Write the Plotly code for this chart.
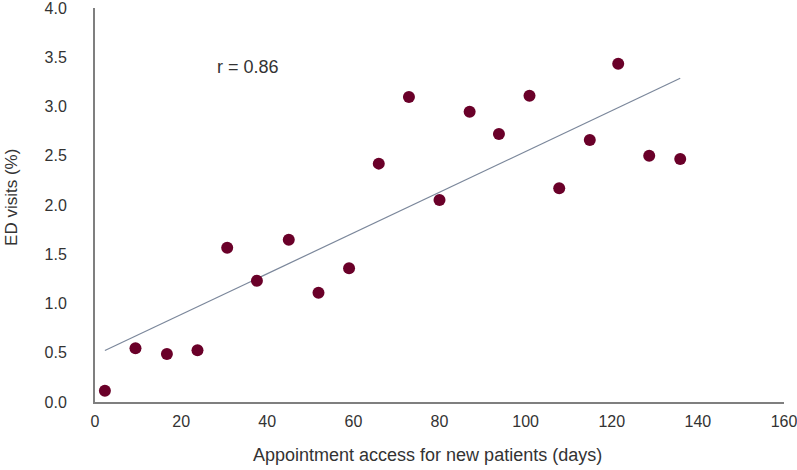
import numpy as np
import plotly.graph_objects as go

access_days = [2.3, 9.4, 16.7, 23.8, 30.7, 37.6, 45.0, 51.9, 59.0, 65.9,
               72.9, 80.0, 87.0, 93.8, 100.9, 107.8, 114.9, 121.5, 128.7, 135.9]
ed_visits = [0.115, 0.545, 0.487, 0.525, 1.567, 1.231, 1.648, 1.11, 1.357, 2.42,
             3.096, 2.05, 2.947, 2.72, 3.11, 2.17, 2.66, 3.435, 2.50, 2.467]
x_ticks = [0, 20, 40, 60, 80, 100, 120, 140, 160]
y_ticks = [0.0, 0.5, 1.0, 1.5, 2.0, 2.5, 3.0, 3.5, 4.0]
r_label = "r = 0.86"
x_title = "Appointment access for new patients (days)"
y_title = "ED visits (%)"

xa = np.array(access_days)
ya = np.array(ed_visits)
slope, intercept = np.polyfit(xa, ya, 1)
line_x = [xa.min(), xa.max()]
line_y = [intercept + slope * v for v in line_x]

fig = go.Figure()
fig.add_trace(go.Scatter(x=line_x, y=line_y, mode="lines",
                         line=dict(color="#7B879B", width=1.2), hoverinfo="skip"))
fig.add_trace(go.Scatter(x=access_days, y=ed_visits, mode="markers",
                         marker=dict(color="#6A0029", size=12)))

txt = "#333333"
fig.add_annotation(x=35.5, y=3.40, text=r_label, showarrow=False,
                   font=dict(size=18, color=txt))
fig.add_annotation(x=0.4826, y=0, xref="paper", yref="paper", yanchor="middle",
                   yshift=-53, text=x_title, showarrow=False,
                   font=dict(size=18, color=txt))
fig.add_annotation(x=0, y=0.518, xref="paper", yref="paper", xanchor="center",
                   xshift=-83, text=y_title, textangle=-90, showarrow=False,
                   font=dict(size=17, color=txt))

font_family = "Liberation Sans, Arial, sans-serif"
fig.update_layout(
    width=797, height=470,
    margin=dict(l=95, r=13, t=8, b=68, autoexpand=False),
    paper_bgcolor="white", plot_bgcolor="white",
    showlegend=False,
    font=dict(family=font_family, color=txt, size=16),
    xaxis=dict(range=[0, 160], tickvals=x_ticks, showgrid=False, zeroline=False,
               showline=True, linecolor="#7F7F7F", linewidth=2,
               ticks="", ticklabeloverflow="allow", ticklabelstandoff=4,
               tickfont=dict(size=16, color=txt), automargin=False),
    yaxis=dict(range=[0, 4.0], tickvals=y_ticks, tickformat=".1f", showgrid=False,
               zeroline=False, showline=True, linecolor="#7F7F7F", linewidth=2,
               ticks="", ticklabeloverflow="allow", ticklabelstandoff=23,
               tickfont=dict(size=16, color=txt), automargin=False),
)

fig.write_html("out.html", config={"displayModeBar": False},
               post_script="document.body.style.margin='0';")
